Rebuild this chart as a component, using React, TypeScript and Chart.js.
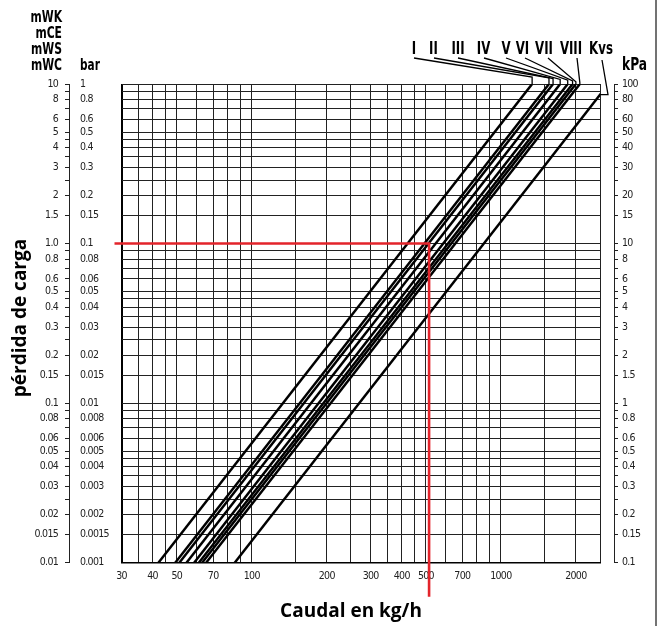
import { useEffect, useRef } from 'react';
import { Chart, registerables } from 'chart.js';

Chart.register(...registerables);

// ---------------- data ----------------
const seriesNames = ['I', 'II', 'III', 'IV', 'V', 'VI', 'VII', 'VIII', 'Kvs'];
// flow (kg/h) where each curve meets the lowest pressure-drop line (0.01 mWC)
const flowAtLowLoss = [42.2, 49.3, 51.2, 54.7, 58.7, 61.3, 63.2, 65.6, 85.4];
// flow (kg/h) where each curve meets the highest pressure-drop line (10 mWC)
const flowAtHighLoss = [1335, 1560, 1620, 1730, 1855, 1940, 2000, 2075, 2700];
const lossBounds = [0.01, 10];
const flowBounds = [30, 2500];
const markedFlow = 515;
const markedLoss = 1.0;

const xGridValues = [30, 35, 40, 45, 50, 60, 70, 80, 90, 100, 150, 200, 250, 300, 350, 400, 450, 500, 600, 700, 800, 900, 1000, 1500, 2000, 2500];
const xTickLabels = [30, 40, 50, 70, 100, 200, 300, 400, 500, 700, 1000, 2000];

const mwcGridValues = [10, 9, 8, 7, 6, 5, 4.5, 4, 3.5, 3, 2.5, 2, 1.5, 1, 0.9, 0.8, 0.7, 0.6, 0.5, 0.45, 0.4, 0.35, 0.3, 0.25, 0.2, 0.15, 0.1, 0.09, 0.08, 0.07, 0.06, 0.05, 0.045, 0.04, 0.035, 0.03, 0.025, 0.02, 0.015, 0.01];
const mwcTickLabels = [10, 8, 6, 5, 4, 3, 2, 1.5, 1, 0.8, 0.6, 0.5, 0.4, 0.3, 0.2, 0.15, 0.1, 0.08, 0.06, 0.05, 0.04, 0.03, 0.02, 0.015, 0.01];
const barTickLabels = [1, 0.8, 0.6, 0.5, 0.4, 0.3, 0.2, 0.15, 0.1, 0.08, 0.06, 0.05, 0.04, 0.03, 0.02, 0.015, 0.01, 0.008, 0.006, 0.005, 0.004, 0.003, 0.002, 0.0015, 0.001];
const kpaGridValues = [100, 90, 80, 70, 60, 50, 45, 40, 35, 30, 25, 20, 15, 10, 9, 8, 7, 6, 5, 4.5, 4, 3.5, 3, 2.5, 2, 1.5, 1, 0.9, 0.8, 0.7, 0.6, 0.5, 0.45, 0.4, 0.35, 0.3, 0.25, 0.2, 0.15, 0.1];
const kpaTickLabels = [100, 80, 60, 50, 40, 30, 20, 15, 10, 8, 6, 5, 4, 3, 2, 1.5, 1, 0.8, 0.6, 0.5, 0.4, 0.3, 0.2, 0.15, 0.1];
const unitNames = ['mWK', 'mCE', 'mWS', 'mWC'];

// ---------------- layout / style ----------------
const NARROW = "'Liberation Sans Narrow', 'DejaVu Sans Condensed', 'Arial Narrow', sans-serif";
const TITLE = "'Open Sans', 'Noto Sans', sans-serif";
const GRID = '#222';
const TEXT = '#222';
const labelCenters = [414, 433.5, 458, 483.5, 506, 522.5, 544, 571, 601];
const leaderStarts = [414, 434, 458, 484, 506, 525, 548, 577];

const narrowText = (ctx: any, text: string, x: number, y: number, size: number, align: string, sx: number) => {
  ctx.save();
  ctx.font = `bold ${size}px ${NARROW}`;
  ctx.textAlign = align;
  ctx.textBaseline = 'middle';
  ctx.translate(x, y);
  ctx.scale(sx, 1);
  ctx.fillText(text, 0, 0);
  ctx.restore();
};

const overlay = {
  id: 'overlay',
  beforeDraw(chart: any) {
    chart.ctx.letterSpacing = '-0.7px';
  },
  afterDatasetsDraw(chart: any) {
    const { ctx, chartArea, scales } = chart;
    const px = scales.x.getPixelForValue(markedFlow);
    const py = scales.y.getPixelForValue(markedLoss);
    ctx.save();
    ctx.strokeStyle = '#e3242b';
    ctx.lineWidth = 2.6;
    ctx.lineCap = 'butt';
    ctx.beginPath();
    ctx.moveTo(chartArea.left - 7, py);
    ctx.lineTo(px, py);
    ctx.lineTo(px, chartArea.bottom + 34);
    ctx.stroke();
    ctx.restore();
  },
  afterDraw(chart: any) {
    const { ctx, chartArea, scales } = chart;
    ctx.letterSpacing = '0px';
    ctx.save();
    ctx.fillStyle = '#000';
    // unit headers
    unitNames.forEach((u, i) => narrowText(ctx, u, 62, 18 + i * 16, 15, 'right', 0.8));
    narrowText(ctx, 'bar', 80, 66, 15, 'left', 0.78);
    narrowText(ctx, 'kPa', 622, 66, 17, 'left', 0.8);
    // series labels
    seriesNames.forEach((n, i) => narrowText(ctx, n, labelCenters[i], 50, 17, 'center', 0.77));
    // leaders
    ctx.strokeStyle = '#000';
    ctx.lineWidth = 1.3;
    for (let i = 0; i < 8; i++) {
      const tx = scales.x.getPixelForValue(flowAtHighLoss[i]);
      ctx.beginPath();
      ctx.moveTo(leaderStarts[i], 58);
      ctx.lineTo(tx, 77 + i * 0.8);
      ctx.lineTo(tx, chartArea.top);
      ctx.stroke();
    }
    // Kvs leader to where its line leaves the plot on the right edge
    const meta = chart.getDatasetMeta(8);
    const p0 = meta.data[0];
    const p1 = meta.data[1];
    const t = (chartArea.right - p0.x) / (p1.x - p0.x);
    const ey = p0.y + t * (p1.y - p0.y);
    ctx.beginPath();
    ctx.moveTo(602, 60);
    ctx.lineTo(608, ey);
    ctx.lineTo(chartArea.right, ey);
    ctx.stroke();
    // titles
    ctx.font = `bold 19px ${TITLE}`;
    ctx.textAlign = 'center';
    ctx.textBaseline = 'middle';
    ctx.fillText('Caudal en kg/h', 351, 612);
    ctx.save();
    ctx.translate(21, 318);
    ctx.rotate(-Math.PI / 2);
    ctx.fillText('pérdida de carga', 0, 0);
    ctx.restore();
    // page border
    ctx.strokeStyle = '#444';
    ctx.lineWidth = 1.5;
    ctx.beginPath();
    ctx.moveTo(656, 0);
    ctx.lineTo(656, 626);
    ctx.stroke();
    ctx.restore();
  },
};

const setTicks = (values: number[]) => (scale: any) => {
  scale.ticks = values.map((v) => ({ value: v }));
};

export default function App() {
  const ref = useRef<HTMLCanvasElement>(null);
  useEffect(() => {
    document.body.style.margin = '0';
    const canvas = ref.current;
    if (!canvas) return;
    const tickFont = { family: NARROW, size: 10.5 };
    const chart = new Chart(canvas, {
      type: 'line',
      data: {
        datasets: seriesNames.map((name, i) => ({
          label: name,
          data: [
            { x: flowAtLowLoss[i], y: lossBounds[0] },
            { x: flowAtHighLoss[i], y: lossBounds[1] },
          ],
          borderColor: '#000',
          borderWidth: 2.5,
          pointRadius: 0,
          fill: false,
          tension: 0,
        })),
      },
      options: {
        responsive: false,
        animation: false,
        devicePixelRatio: 1,
        layout: { padding: { top: 84, left: 0, right: 0, bottom: 0 } },
        plugins: { legend: { display: false }, tooltip: { enabled: false } },
        events: [],
        scales: {
          x: {
            type: 'logarithmic',
            position: 'bottom',
            min: flowBounds[0],
            max: flowBounds[1],
            afterBuildTicks: setTicks(xGridValues),
            afterFit: (s: any) => { s.height = 63.3; },
            ticks: {
              autoSkip: false,
              maxRotation: 0,
              padding: 7,
              font: tickFont,
              color: TEXT,
              callback: (v: any) => (xTickLabels.includes(v) ? String(v) : ''),
            },
            grid: {
              color: (c: any) => (c.tick && c.tick.value === flowBounds[0] ? '#000' : GRID),
              lineWidth: (c: any) => (c.tick && c.tick.value === flowBounds[0] ? 2 : 1),
              drawTicks: false,
            },
            border: { display: true, color: '#000', width: 1.5 },
          },
          y: {
            type: 'logarithmic',
            position: 'left',
            weight: 3,
            min: lossBounds[0],
            max: lossBounds[1],
            afterBuildTicks: setTicks(mwcGridValues),
            afterFit: (s: any) => { s.width = 69; },
            ticks: {
              autoSkip: false,
              padding: 7,
              font: tickFont,
              color: TEXT,
              callback: (v: any) => (mwcTickLabels.includes(v) ? (v === 1 ? '1.0' : String(v)) : ''),
            },
            grid: { color: GRID, lineWidth: 1, drawTicks: true, tickLength: 4 },
            border: { display: true, color: '#222', width: 1 },
          },
          spacerL: {
            type: 'linear',
            position: 'left',
            weight: 2,
            afterFit: (s: any) => { s.width = 11; },
            ticks: { display: false },
            grid: { display: false },
            border: { display: false },
          },
          bar: {
            type: 'logarithmic',
            position: 'left',
            weight: 1,
            min: 0.001,
            max: 1,
            afterBuildTicks: setTicks(barTickLabels),
            afterFit: (s: any) => { s.width = 41.5; },
            ticks: {
              autoSkip: false,
              crossAlign: 'far',
              font: tickFont,
              color: TEXT,
              callback: (v: any) => String(v),
            },
            grid: { display: false },
            border: { display: false },
          },
          spacerR: {
            type: 'linear',
            position: 'right',
            weight: 1,
            afterFit: (s: any) => { s.width = 14; },
            ticks: { display: false },
            grid: { display: false },
            border: { display: false },
          },
          kpa: {
            type: 'logarithmic',
            position: 'right',
            weight: 2,
            min: 0.1,
            max: 100,
            afterBuildTicks: setTicks(kpaGridValues),
            afterFit: (s: any) => { s.width = 47; },
            ticks: {
              autoSkip: false,
              padding: 4,
              font: tickFont,
              color: TEXT,
              callback: (v: any) => (kpaTickLabels.includes(v) ? String(v) : ''),
            },
            grid: { color: GRID, lineWidth: 1, drawOnChartArea: false, drawTicks: true, tickLength: 4 },
            border: { display: true, color: '#222', width: 1 },
          },
        },
      } as any,
      plugins: [overlay],
    });
    return () => chart.destroy();
  }, []);
  return (
    <div style={{ width: 661, height: 626, position: 'relative' }}>
      <canvas ref={ref} width={661} height={626} style={{ display: 'block', width: 661, height: 626 }} />
    </div>
  );
}
